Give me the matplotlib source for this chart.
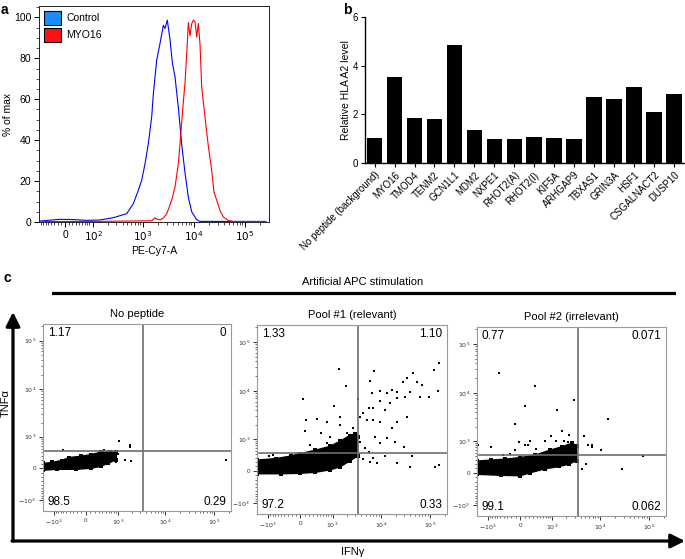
import numpy as np
import matplotlib
matplotlib.use("Agg")
import matplotlib.pyplot as plt
from matplotlib.patches import Patch, Polygon, FancyArrowPatch
from matplotlib.lines import Line2D
from matplotlib.ticker import FixedLocator, NullFormatter

plt.rcParams['font.family'] = ['Liberation Sans', 'DejaVu Sans']

W, H = 685, 559

# ---- a: PE-Cy7-A histograms ----
ctrl_x = [-80, -14, 23, 69, 139, 262, 485, 655, 820, 954, 1110, 1290, 1500, 1620, 1880, 2185, 2540,
          2740, 3040, 3440, 3810, 4300, 5000, 5820, 6760, 7860, 9150, 11460, 13300, 260000]
ctrl_y = [0.5, 1.3, 1.2, 0.8, 1.0, 2.1, 4.1, 9.0, 15.5, 20.4, 28.5, 38.3, 51.4, 62.8, 79.1, 87.3, 96.2,
          94.6, 98.7, 89, 78, 71, 56, 38, 24, 12, 5, 1.1, 0.3, 0.3]
myo_x = [-80, 139, 655, 1500, 1745, 1940, 2185, 2540, 2960, 3700, 4300, 5000, 5390, 6080, 6760, 7300,
         7860, 8470, 9150, 9850, 10620, 11460, 12340, 13300, 14360, 16700, 19400, 22600, 25000, 28300,
         32800, 38200, 47800, 59800, 260000]
myo_y = [0.2, 0.3, 0.5, 0.6, 2.0, 1.3, 1.0, 2.0, 4.0, 10.6, 17, 28.5, 38, 55, 68, 82, 97.5, 91, 97,
         98.7, 97.9, 90.5, 97, 87, 66, 51, 37, 25, 14.7, 10.6, 5.7, 2.4, 0.8, 0.2, 0.2]

# ---- b: relative HLA A2 level ----
peptides = ["No peptide (background)", "MYO16", "TMOD4", "TENM2", "GCN1L1", "MDM2", "NXPE1",
            "RHOT2(A)", "RHOT2(I)", "KIF5A", "ARHGAP9", "TBXAS1", "GRIN3A", "HSF1",
            "CSGALNACT2", "DUSP10"]
hla_level = [1.03, 3.53, 1.83, 1.82, 4.84, 1.34, 1.0, 0.98, 1.08, 1.03, 0.98, 2.71, 2.62, 3.12, 2.08, 2.85]

# ---- c: IFNg / TNFa dot plots (dense cloud outline + single events) ----
np_cloud_x = [-1710, -1128, -667, -420, -109, 109, 351, 667, 930, 930, 577, 351, 109, -224, -880, -1710]
np_cloud_y = [109, 132, 176, 248, 285, 324, 392, 405, 392, 200, 109, 43, 0, -22, -22, -43]
np_pts_x = [1080, 1860, 1860, 990, 1435, 1970, 910, 565, 177000, -620, 685, 455]
np_pts_y = [785, 620, 560, 340, 188, 165, 150, 270, 188, 455, 395, 455]

p1_cloud_x = [-1710, -667, -224, 0, 351, 880, 1450, 2327, 2940, 3385, 3385, 2327, 1450, 880, 351, 0,
              -497, -1710]
p1_cloud_y = [248, 285, 351, 423, 526, 667, 880, 1185, 1280, 1128, 351, 224, 87, 22, -33, -54, -65, -65]
p1_pts_x = [1410, 58, 1940, 135, 405, 760, 95, 540, 1075, 1455, 875, 2010, 2360, 212, 735, -795, -245,
            -960, 7450, 6100, 3500, 6600, 9750, 16800, 27900, 34000, 44500, 54500, 69000, 95000, 120000,
            152000, 144000, 62000, 40000, 31500, 21300, 15500, 9750, 12400, 7100, 5650, 4450, 3800, 5200,
            7100, 9750, 16800, 21300, 34000, 19700, 29200, 13300, 7700, 9750, 21300, 40000, 124000, 152000,
            43000, 12400, 7100, 8300, 6100, 4450, 5650, 4800, 3800, 21300, 13300, 2990, 2770, 1455]
p1_pts_y = [28000, 6800, 12600, 2520, 2600, 2330, 1510, 1370, 4900, 2960, 1115, 1330, 1020, 715, 790, 378,
            378, 360, 25900, 16200, 6800, 8900, 10100, 10400, 15400, 18000, 22800, 15400, 13200, 7400,
            26700, 36500, 10100, 7400, 9600, 7400, 7100, 5600, 6350, 4000, 4400, 4400, 3450, 2960, 2520,
            2520, 2330, 1700, 2330, 2960, 865, 650, 1020, 1115, 790, 166, 75, 90, 128, 360, 360, 290, 166,
            206, 265, 465, 590, 865, 9600, 9200, 1330, 1700, 1980]

p2_cloud_x = [-1710, -880, -351, 0, 351, 880, 1630, 2620, 3300, 3300, 2327, 1450, 667, 224, 0, -497, -1710]
p2_cloud_y = [273, 298, 324, 365, 436, 595, 728, 880, 767, 285, 200, 143, 87, 0, -65, -54, -33]
p2_pts_x = [-560, 350, 118, 2860, 1280, -119, 14400, 1650, 2290, 4670, 5650, 6900, 6900, 10200, 75000,
            27400, 4300, 5200, -865, -15, 118, 170, 228, 695, 385, 960, 1215, 1780, 2210, 2560, -425,
            -1650, -245, -105]
p2_pts_y = [25000, 13800, 5500, 7000, 4500, 2330, 2850, 1600, 1330, 1290, 825, 730, 825, 620, 406, 88,
            74, 212, 730, 920, 825, 825, 1000, 1000, 645, 1290, 1000, 1000, 920, 790, 455, 790, 485, 590]

panel_titles = ["No peptide", "Pool #1 (relevant)", "Pool #2 (irrelevant)"]
quad_pct = [["1.17", "0", "98.5", "0.29"],
            ["1.33", "1.10", "97.2", "0.33"],
            ["0.77", "0.071", "99.1", "0.062"]]
gate_x, gate_y = 3500, 430


def box(l, t, r, b):
    return [l / W, 1 - b / H, (r - l) / W, (b - t) / H]


def biex(c):
    fwd = lambda v: np.arcsinh(np.asarray(v, dtype=float) / c) / np.log(10)
    inv = lambda f: c * np.sinh(np.asarray(f, dtype=float) * np.log(10))
    return fwd, inv


def minor_list(lin_step, lin_max, top):
    m = [s * k * lin_step for s in (-1, 1) for k in range(1, 10) if k * lin_step <= lin_max]
    d = 10 * lin_step
    while d < top:
        m += [k * d for k in range(2, 10) if k * d < top]
        d *= 10
    return m


fig = plt.figure(figsize=(W / 100, H / 100), dpi=100)

# ---------------- a ----------------
ax = fig.add_axes(box(39, 6, 269, 222))
ax.set_xscale('function', functions=biex(60))
ax.plot(ctrl_x, ctrl_y, color='#0000ff', lw=0.8)
ax.plot(myo_x, myo_y, color='#ff0000', lw=0.8)
ax.set_xlim(-88, 300000)
ax.set_ylim(0, 105.6)
ax.xaxis.set_major_locator(FixedLocator([0, 1e2, 1e3, 1e4, 1e5]))
ax.set_xticklabels(["0", "$10^2$", "$10^3$", "$10^4$", "$10^5$"])
ax.xaxis.set_minor_locator(FixedLocator(minor_list(10, 80, 300000)))
ax.xaxis.set_minor_formatter(NullFormatter())
ax.set_yticks(range(0, 101, 20))
ax.yaxis.set_minor_locator(FixedLocator(range(0, 106, 5)))
ax.tick_params(axis='both', which='major', labelsize=7.5, length=3.5, width=0.7, pad=2)
ax.tick_params(axis='both', which='minor', length=2, width=0.5)
for s in ax.spines.values():
    s.set_linewidth(0.7)
    s.set_color('#222222')
ax.set_xlabel("PE-Cy7-A", fontsize=7.5, labelpad=2)
ax.set_ylabel("% of max", fontsize=7.5, labelpad=1)
hand = [Patch(facecolor='#1a8cff', edgecolor='black', lw=0.8, label='Control'),
        Patch(facecolor='#ff1111', edgecolor='black', lw=0.8, label='MYO16')]
ax.legend(handles=hand, loc='upper left', frameon=False, fontsize=7.5, handlelength=1.65,
          handleheight=1.75, handletextpad=0.5, labelspacing=0.25, borderaxespad=0.25, borderpad=0.2)

# ---------------- b ----------------
bx = fig.add_axes(box(365, 17, 685, 163))
pos = np.arange(len(peptides))
bx.bar(pos, hla_level, width=0.78, color='black')
bx.set_xlim(-0.48, 15.55)
bx.set_ylim(0, 6)
bx.set_yticks([0, 2, 4, 6])
bx.set_xticks(pos)
bx.set_xticklabels(peptides, rotation=45, ha='right', rotation_mode='anchor')
bx.tick_params(axis='both', labelsize=7, length=3, width=0.8, pad=2)
bx.spines['top'].set_visible(False)
bx.spines['right'].set_visible(False)
for s in ('left', 'bottom'):
    bx.spines[s].set_linewidth(1.0)
bx.set_ylabel("Relative HLA A2 level", fontsize=7.5, labelpad=1)

# ---------------- c ----------------
boxes = [(43, 324, 231, 511), (257, 325, 447, 514), (477, 327, 666, 516)]
clouds = [(np_cloud_x, np_cloud_y, np_pts_x, np_pts_y),
          (p1_cloud_x, p1_cloud_y, p1_pts_x, p1_pts_y),
          (p2_cloud_x, p2_cloud_y, p2_pts_x, p2_pts_y)]
c_major = [-1000, 0, 1000, 10000, 100000]
c_labels = ["$-10^3$", "0", "$10^3$", "$10^4$", "$10^5$"]
c_minor = minor_list(100, 900, 220000)
for i, (b, (cx, cy, qx, qy)) in enumerate(zip(boxes, clouds)):
    sa = fig.add_axes(box(*b))
    sa.set_xscale('function', functions=biex(470))
    sa.set_yscale('function', functions=biex(470))
    sa.set_xlim(-1750, 220000)
    sa.set_ylim(-1750, 220000)
    sa.add_patch(Polygon(np.column_stack([cx, cy]), closed=True, facecolor='black',
                         edgecolor='black', lw=1.0))
    sa.plot(cx, cy, 's', color='black', ms=2.2, mew=0)
    sa.plot(qx, qy, 's', color='black', ms=2.0, mew=0)
    sa.axvline(gate_x, color='#6e6e6e', lw=1.2)
    sa.axhline(gate_y, color='#6e6e6e', lw=1.2)
    for axis in (sa.xaxis, sa.yaxis):
        axis.set_major_locator(FixedLocator(c_major))
        axis.set_minor_locator(FixedLocator(c_minor))
        axis.set_minor_formatter(NullFormatter())
    sa.set_xticklabels(c_labels)
    sa.set_yticklabels(c_labels)
    sa.tick_params(axis='both', which='major', labelsize=4.5, length=3, width=0.7, pad=2,
                   color='#333333', labelcolor='#333333')
    sa.tick_params(axis='both', which='minor', length=1.6, width=0.5, color='#333333')
    for s in sa.spines.values():
        s.set_color('#999999')
        s.set_linewidth(0.8)
    q = quad_pct[i]
    sa.text(0.025, 0.952, q[0], transform=sa.transAxes, fontsize=8.5, va='center', ha='left')
    sa.text(0.975, 0.952, q[1], transform=sa.transAxes, fontsize=8.5, va='center', ha='right')
    sa.text(0.025, 0.05, q[2], transform=sa.transAxes, fontsize=8.5, va='center', ha='left')
    sa.text(0.975, 0.05, q[3], transform=sa.transAxes, fontsize=8.5, va='center', ha='right')
    sa.set_title(panel_titles[i], fontsize=8, pad=5)

# figure-level decorations
def P(x, y):
    return (x / W, 1 - y / H)

fig.text(*P(363, 282), "Artificial APC stimulation", fontsize=8, ha='center', va='center')
fig.add_artist(Line2D([53 / W, 674 / W], [1 - 293 / H, 1 - 293 / H], color='black', lw=2.3,
                      transform=fig.transFigure))
fig.add_artist(FancyArrowPatch(P(13, 541), P(13, 312), transform=fig.transFigure,
                               arrowstyle='-|>,head_length=0.6,head_width=0.3', mutation_scale=14,
                               lw=2.3, color='black', shrinkA=0, shrinkB=0))
fig.add_artist(FancyArrowPatch(P(12, 541), P(685, 541), transform=fig.transFigure,
                               arrowstyle='-|>,head_length=0.6,head_width=0.3', mutation_scale=14,
                               lw=2.3, color='black', shrinkA=0, shrinkB=0))
fig.text(*P(6, 403), "TNF\u03b1", fontsize=8, rotation=90, ha='center', va='center')
fig.text(*P(353, 552), "IFN\u03b3", fontsize=8, ha='center', va='center')

fig.text(*P(1, 10), "a", fontsize=10, fontweight='bold', va='center')
fig.text(*P(343, 10), "b", fontsize=10, fontweight='bold', va='center')
fig.text(*P(3, 278), "c", fontsize=10, fontweight='bold', va='center')

fig.savefig("out.png", dpi=100)
